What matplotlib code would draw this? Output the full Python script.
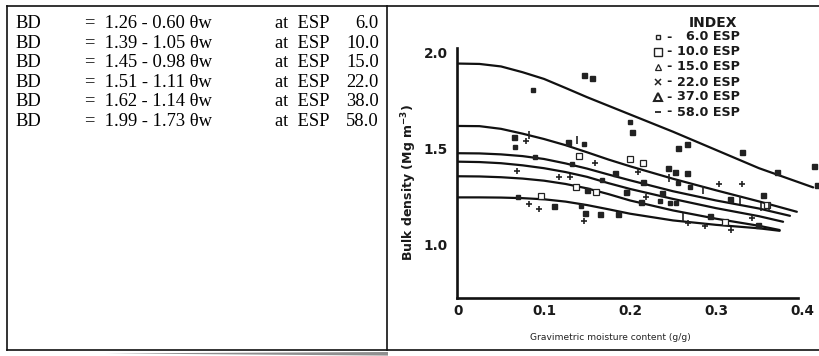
import matplotlib
matplotlib.use("Agg")
import matplotlib.pyplot as plt

# ---------------- data ----------------
# left cell: regression equations
eq_intercepts = ["1.26", "1.39", "1.45", "1.51", "1.62", "1.99"]
eq_slopes = ["0.60", "1.05", "0.98", "1.11", "1.14", "1.73"]
eq_esp = ["6.0", "10.0", "15.0", "22.0", "38.0", "58.0"]

# legend (INDEX) entries
legend_esp = ["6.0", "10.0", "15.0", "22.0", "37.0", "58.0"]

# fitted curves (gravimetric moisture, bulk density)
cx = [0.0, 0.025, 0.05, 0.075, 0.10, 0.125, 0.15, 0.175, 0.20, 0.25, 0.30, 0.35]
curve_x = {
    "58": cx + [0.413],
    "38": cx + [0.394],
    "22": cx + [0.386],
    "15": cx + [0.378],
    "10": cx + [0.374],
    "6":  cx + [0.374],
}
curve_y = {
    "58": [1.945, 1.943, 1.930, 1.900, 1.865, 1.818, 1.770, 1.725, 1.680, 1.590, 1.495, 1.400, 1.300],
    "38": [1.620, 1.619, 1.605, 1.580, 1.552, 1.520, 1.483, 1.445, 1.410, 1.345, 1.285, 1.227, 1.173],
    "22": [1.478, 1.477, 1.472, 1.463, 1.448, 1.425, 1.398, 1.367, 1.337, 1.280, 1.232, 1.190, 1.152],
    "15": [1.434, 1.432, 1.426, 1.415, 1.400, 1.380, 1.355, 1.322, 1.292, 1.240, 1.192, 1.150, 1.121],
    "10": [1.358, 1.357, 1.353, 1.346, 1.335, 1.318, 1.295, 1.265, 1.232, 1.180, 1.137, 1.100, 1.078],
    "6":  [1.248, 1.248, 1.247, 1.244, 1.238, 1.226, 1.208, 1.186, 1.163, 1.128, 1.105, 1.087, 1.074],
}

# measured points by marker type
filled_x = [0.1465, 0.156, 0.065, 0.128, 0.202, 0.256, 0.266, 0.330, 0.371, 0.414, 0.417,
            0.244, 0.252, 0.266, 0.316, 0.355, 0.215, 0.237, 0.213, 0.293, 0.349, 0.182,
            0.195, 0.150, 0.112, 0.148, 0.165, 0.186]
filled_y = [1.885, 1.868, 1.561, 1.538, 1.590, 1.503, 1.526, 1.486, 1.382, 1.410, 1.310,
            1.400, 1.382, 1.377, 1.238, 1.260, 1.330, 1.272, 1.226, 1.151, 1.104, 1.373,
            1.278, 1.286, 1.203, 1.168, 1.160, 1.160]

small_x = [0.0876, 0.066, 0.146, 0.089, 0.200, 0.132, 0.167, 0.070, 0.143, 0.256, 0.270,
           0.235, 0.247, 0.254, 0.196]
small_y = [1.807, 1.509, 1.526, 1.460, 1.642, 1.420, 1.339, 1.248, 1.203, 1.325, 1.300,
           1.231, 1.220, 1.217, 1.278]

open_x = [0.141, 0.200, 0.215, 0.137, 0.161, 0.096, 0.310, 0.359]
open_y = [1.464, 1.450, 1.427, 1.300, 1.278, 1.257, 1.121, 1.208]

plus_x = [0.079, 0.159, 0.209, 0.069, 0.117, 0.130, 0.303, 0.330, 0.219, 0.268, 0.287,
          0.317, 0.342, 0.082, 0.094, 0.146]
plus_y = [1.540, 1.425, 1.379, 1.385, 1.356, 1.356, 1.320, 1.316, 1.250, 1.113, 1.099,
          1.078, 1.139, 1.212, 1.187, 1.125]

bar_x = [0.082, 0.138, 0.245, 0.285, 0.328, 0.352, 0.362, 0.262]
bar_y = [1.573, 1.547, 1.347, 1.286, 1.234, 1.200, 1.200, 1.147]

x_ticks = [0.0, 0.1, 0.2, 0.3, 0.4]
x_ticklabels = ["0", "0.1", "0.2", "0.3", "0.4"]
y_ticks = [1.0, 1.5, 2.0]
y_ticklabels = ["1.0", "1.5", "2.0"]

# ---------------- figure ----------------
W, H = 820, 356
fig = plt.figure(figsize=(W / 100, H / 100), dpi=100)
fig.patch.set_facecolor("white")

ov = fig.add_axes([0, 0, 1, 1])
ov.set_xlim(0, W)
ov.set_ylim(H, 0)
ov.axis("off")

# table frame
lc = "#111111"
ov.plot([7, W], [6, 6], color=lc, lw=1.2)
ov.plot([7, W], [350, 350], color=lc, lw=1.2)
ov.plot([7, 7], [6, 350], color=lc, lw=1.2)
ov.plot([387, 387], [6, 350], color=lc, lw=1.2)
# soft shadow under the table
ov.fill([105, 388, 388], [353.4, 352.0, 355.6], color="#8f8f8f", lw=0)

# left cell equations
serif = ["Liberation Serif", "DejaVu Serif"]
fs_eq = 13.3
row_y = [23.3, 43.0, 62.7, 82.3, 101.8, 121.3]
for ry, b, m, e in zip(row_y, eq_intercepts, eq_slopes, eq_esp):
    ov.text(15, ry, "BD", family=serif, fontsize=fs_eq, va="center", ha="left")
    ov.text(85, ry, f"=  {b} - {m} \u03b8w", family=serif, fontsize=fs_eq,
            va="center", ha="left")
    ov.text(275, ry, "at  ESP", family=serif, fontsize=fs_eq, va="center", ha="left")
    ov.text(379, ry, e, family=serif, fontsize=fs_eq, va="center", ha="right")

# legend (INDEX)
sans = ["DejaVu Sans"]
ov.text(713, 23, "INDEX", family=sans, fontsize=10, fontweight="bold",
        ha="center", va="center", color="#1a1a1a")
leg_y = [37, 51.5, 66.5, 82, 97, 112]
leg_mk = [dict(marker="s", ms=3.2, mfc="white", mec="#222", mew=1.0),
          dict(marker="s", ms=5.5, mfc="white", mec="#222", mew=1.0),
          dict(marker="^", ms=5.0, mfc="white", mec="#222", mew=0.9),
          dict(marker="x", ms=4.0, mec="#222", mew=1.1),
          dict(marker="^", ms=6.0, mfc="white", mec="#222", mew=1.5),
          dict(marker="_", ms=5.0, mec="#222", mew=1.3)]
for ly, lab, mk in zip(leg_y, legend_esp, leg_mk):
    ov.plot([658], [ly], linestyle="none", **mk)
    ov.text(669, ly, "-", family=sans, fontsize=9.2, fontweight="bold",
            ha="center", va="center", color="#1a1a1a")
    ov.text(740, ly, f"{lab} ESP", family=sans, fontsize=9.2, fontweight="bold",
            ha="right", va="center", color="#1a1a1a")

# axis titles
ov.text(409, 182, "Bulk density (Mg m$^{\\mathbf{-3}}$)", family=sans, fontsize=9,
        fontweight="bold", rotation=90, ha="center", va="center", color="#1a1a1a")
ov.text(610, 338, "Gravimetric moisture content (g/g)", family=sans, fontsize=6.6,
        ha="center", va="center", color="#222")

# ---------------- data axes ----------------
x_lo, x_hi = -0.0012, 0.42
y_lo, y_hi = 0.724, 2.026
px_l = 458 + 860 * x_lo
px_r = 458 + 860 * x_hi
px_t = 245 - (y_hi - 1.0) * 192
px_b = 245 - (y_lo - 1.0) * 192
ax = fig.add_axes([px_l / W, 1 - px_b / H, (px_r - px_l) / W, (px_b - px_t) / H])
ax.patch.set_alpha(0)
ax.set_xlim(x_lo, x_hi)
ax.set_ylim(y_lo, y_hi)
for s in ["top", "right"]:
    ax.spines[s].set_visible(False)
for s in ["left", "bottom"]:
    ax.spines[s].set_linewidth(1.9)
    ax.spines[s].set_color("#111")
ax.spines["bottom"].set_bounds(x_lo, 0.395)

ax.set_xticks(x_ticks)
ax.set_xticklabels(x_ticklabels)
ax.set_yticks(y_ticks)
ax.set_yticklabels(y_ticklabels)
ax.tick_params(axis="both", length=0)
ax.tick_params(axis="x", pad=4)
ax.tick_params(axis="y", pad=6.5)
for t in ax.get_xticklabels() + ax.get_yticklabels():
    t.set_fontfamily(sans)
    t.set_fontweight("bold")
    t.set_fontsize(9.8)
    t.set_color("#1a1a1a")

for k in curve_x:
    ax.plot(curve_x[k], curve_y[k], color="#111", lw=1.6, clip_on=False,
            solid_joinstyle="round", solid_capstyle="round")

ax.plot(filled_x, filled_y, linestyle="none", marker="s", ms=3.6, mfc="#222",
        mec="#222", clip_on=False)
ax.plot(small_x, small_y, linestyle="none", marker="s", ms=2.3, mfc="#222",
        mec="#222", clip_on=False)
ax.plot(open_x, open_y, linestyle="none", marker="s", ms=4.3, mfc="white",
        mec="#222", mew=0.9, clip_on=False)
ax.plot(plus_x, plus_y, linestyle="none", marker="+", ms=5.0, mec="#222",
        mew=1.2, clip_on=False)
ax.plot(bar_x, bar_y, linestyle="none", marker="|", ms=5.5, mec="#222",
        mew=1.2, clip_on=False)

fig.savefig("out.png", dpi=100, facecolor="white")
